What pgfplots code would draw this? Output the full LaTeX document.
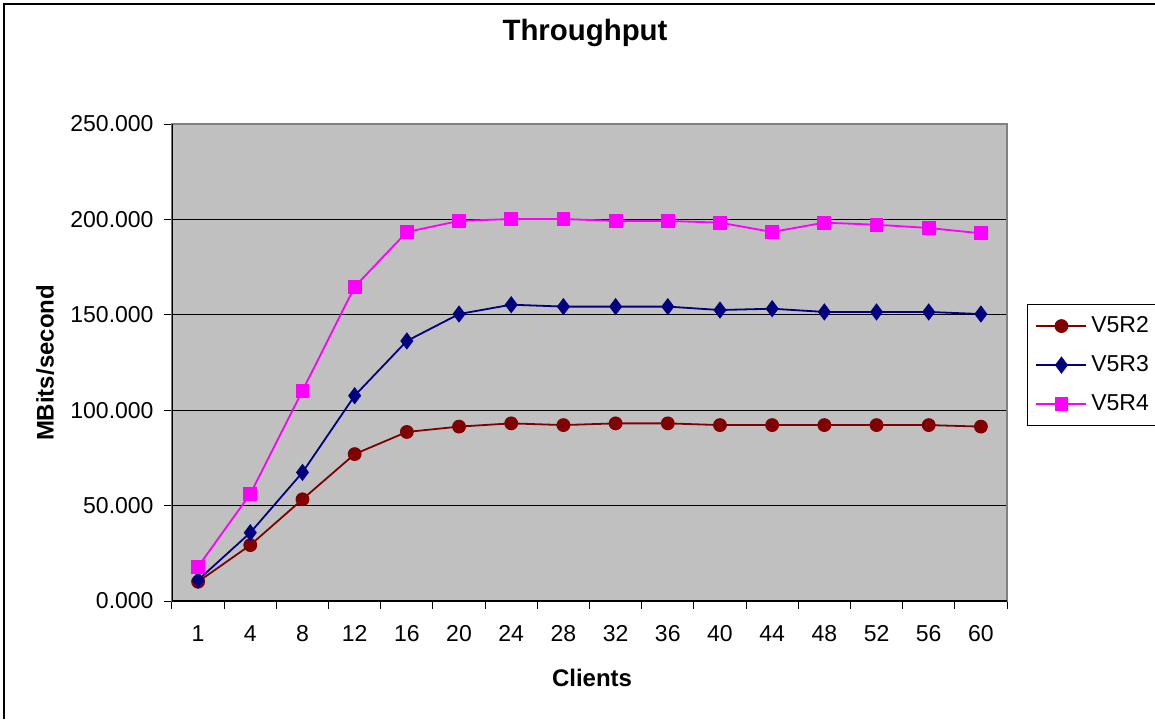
\documentclass[border=0pt]{standalone}
\usepackage{pgfplots}
\pgfplotsset{compat=1.18}
\usepackage{fontspec}
\setmainfont{Liberation Sans}
\definecolor{plotgray}{RGB}{192,192,192}
\definecolor{bordergray}{RGB}{128,128,128}
\definecolor{sdarkred}{RGB}{128,0,0}
\definecolor{snavy}{RGB}{0,0,128}
\definecolor{smagenta}{RGB}{255,0,255}
\begin{document}
\begin{tikzpicture}
\useasboundingbox (0,0) rectangle (577.5pt,359.5pt);
\draw[black, line width=0.6pt] (2pt,0) -- (2pt,357.5pt) -- (577.5pt,357.5pt);
\begin{axis}[
  at={(86pt,59pt)}, anchor=south west,
  width=417.5pt, height=238.5pt, scale only axis,
  xmin=-0.5, xmax=15.5, ymin=0, ymax=250,
  axis background/.style={fill=plotgray},
  axis line style={draw=bordergray, line width=0.6pt},
  xtick pos=bottom, ytick pos=left,
  xtick={-0.5,0.5,...,15.5}, xticklabels={},
  extra x ticks={0,1,...,15},
  extra x tick labels={1,4,8,12,16,20,24,28,32,36,40,44,48,52,56,60},
  extra x tick style={major tick length=0pt, grid=none, tick label style={yshift=-8.6pt}},
  ytick={0,50,...,250},
  tick align=outside, major tick length=4pt,
  tick style={black, line width=0.5pt},
  ymajorgrids, grid style={black, line width=0.5pt},
  /pgf/number format/assume math mode=true,
  yticklabel style={/pgf/number format/fixed, /pgf/number format/fixed zerofill, /pgf/number format/precision=3, xshift=-1.7pt},
  tick label style={font=\fontsize{11.5}{13}\selectfont},
  title={Throughput},
  title style={font=\bfseries\fontsize{14.7}{17}\selectfont, at={(axis description cs:0.4946,1.1656)}, anchor=center},
  xlabel={Clients},
  xlabel style={font=\bfseries\fontsize{12}{14}\selectfont, at={(axis description cs:0.503,-0.1614)}, anchor=center},
  ylabel={MBits/second},
  ylabel style={font=\bfseries\fontsize{12}{14}\selectfont, at={(axis description cs:-0.152,0.499)}, anchor=center},
  legend style={at={(axis description cs:1.024,0.6226)}, anchor=north west, draw=black, line width=0.5pt,
    font=\fontsize{11.5}{13}\selectfont, row sep=6pt, inner xsep=4pt, inner ysep=4pt, cells={anchor=west}},
  every axis plot/.append style={legend image code/.code={\draw[mark repeat=2,mark phase=2,#1] plot coordinates {(0pt,0pt)(12.5pt,0pt)(25pt,0pt)};}},
]
\addplot[sdarkred, line width=0.9pt, mark=*, mark size=3pt, mark options={solid, fill=sdarkred}] coordinates {
(0,10.1)(1,29.3)(2,53.3)(3,77.0)(4,88.6)(5,91.4)(6,93.1)(7,92.2)(8,93.1)(9,93.1)(10,92.2)(11,92.2)(12,92.2)(13,92.2)(14,92.2)(15,91.4)};
\addlegendentry{V5R2}
\addplot[snavy, line width=0.9pt, mark=diamond*, mark size=3.6pt, mark options={solid, fill=snavy}] coordinates {
(0,11.0)(1,35.8)(2,67.4)(3,107.6)(4,136.3)(5,150.4)(6,155.3)(7,154.3)(8,154.3)(9,154.3)(10,152.5)(11,153.2)(12,151.5)(13,151.5)(14,151.5)(15,150.4)};
\addlegendentry{V5R3}
\addplot[smagenta, line width=0.9pt, mark=square*, mark size=3pt, mark options={solid, fill=smagenta}] coordinates {
(0,18.0)(1,56.1)(2,110.2)(3,164.7)(4,193.4)(5,199.2)(6,200.2)(7,200.2)(8,199.2)(9,199.2)(10,198.3)(11,193.4)(12,198.3)(13,197.2)(14,195.5)(15,192.7)};
\addlegendentry{V5R4}
\draw[black, line width=0.6pt] (rel axis cs:0,1) -- (rel axis cs:0,0) -- (rel axis cs:1,0);
\end{axis}
\end{tikzpicture}
\end{document}
